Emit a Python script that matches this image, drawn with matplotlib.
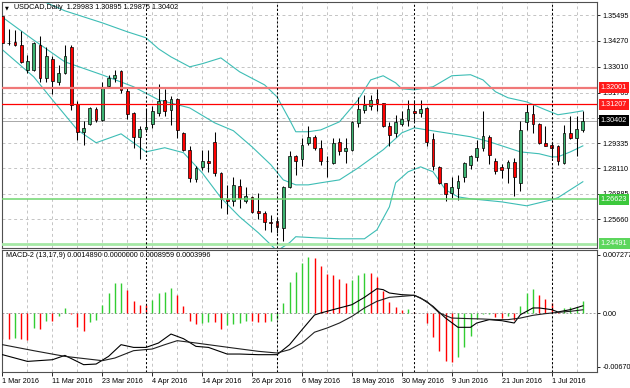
# USDCAD daily candles with Bollinger bands and a MACD-2 (13,17,9) panel,
# drawn to look like the MT4 terminal chart
import matplotlib as mp
mp.use('agg')
import matplotlib.pyplot as plt

plt.rcParams['font.family'] = ['Liberation Sans', 'DejaVu Sans']
FS = 5.2

# --- data (1 Mar 2016 .. 8 Jul 2016, one bar per trading day)
opens = [1.3544, 1.3418, 1.3420, 1.3407, 1.3287, 1.3287, 1.3407, 1.3247, 1.3338, 1.3230,
         1.3271, 1.3399, 1.3123, 1.2986, 1.3025, 1.3099, 1.3046, 1.3209, 1.3247, 1.3282,
         1.3185, 1.3078, 1.2962, 1.3001, 1.3026, 1.3078, 1.3142, 1.3094, 1.3148, 1.2984,
         1.2898, 1.2761, 1.2816, 1.2845, 1.2941, 1.2789, 1.2663, 1.2652, 1.2727, 1.2655,
         1.2673, 1.2608, 1.2596, 1.2555, 1.2560, 1.2524, 1.2721, 1.2869, 1.2856, 1.2936,
         1.2965, 1.2909, 1.2849, 1.2837, 1.2941, 1.2893, 1.2898, 1.3030, 1.3094, 1.3113,
         1.3145, 1.3126, 1.3017, 1.2982, 1.3025, 1.3046, 1.3090, 1.3078, 1.3102, 1.2953,
         1.2818, 1.2741, 1.2692, 1.2719, 1.2772, 1.2829, 1.2866, 1.2909, 1.2965, 1.2845,
         1.2816, 1.2813, 1.2840, 1.2743, 1.3033, 1.3073, 1.3026, 1.2936, 1.2925, 1.2917,
         1.2837, 1.2984, 1.2960, 1.29983]
highs = [1.3552, 1.3484, 1.3479, 1.3475, 1.3359, 1.3423, 1.3450, 1.3399, 1.3354, 1.3311,
         1.3407, 1.3407, 1.3134, 1.3042, 1.3107, 1.3107, 1.3230, 1.3262, 1.3287, 1.3287,
         1.3198, 1.3081, 1.3017, 1.3102, 1.3113, 1.3217, 1.3194, 1.3161, 1.3153, 1.2989,
         1.2917, 1.2825, 1.2898, 1.2898, 1.2989, 1.2794, 1.2732, 1.2772, 1.2761, 1.2721,
         1.2676, 1.2695, 1.2604, 1.2588, 1.2572, 1.2727, 1.2893, 1.2877, 1.2960, 1.3017,
         1.2973, 1.2946, 1.2869, 1.2957, 1.2960, 1.2957, 1.3042, 1.3158, 1.3163, 1.3166,
         1.3194, 1.3129, 1.3033, 1.3070, 1.3089, 1.3139, 1.3142, 1.3142, 1.3107, 1.2984,
         1.2821, 1.2743, 1.2772, 1.2781, 1.2840, 1.2874, 1.2949, 1.3090, 1.2973, 1.2861,
         1.2832, 1.2853, 1.2861, 1.3041, 1.3121, 1.3115, 1.3030, 1.3017, 1.2941, 1.2922,
         1.3022, 1.3062, 1.3062, 1.30895]
lows = [1.3388, 1.3407, 1.3402, 1.3319, 1.3272, 1.3282, 1.3230, 1.3230, 1.3171, 1.3214,
        1.3267, 1.3094, 1.2949, 1.2925, 1.3022, 1.3033, 1.3042, 1.3203, 1.3230, 1.3174,
        1.3050, 1.2912, 1.2856, 1.2989, 1.3006, 1.3065, 1.3062, 1.3022, 1.2957, 1.2893,
        1.2748, 1.2748, 1.2805, 1.2792, 1.2777, 1.2620, 1.2591, 1.2631, 1.2620, 1.2644,
        1.2596, 1.2567, 1.2515, 1.2507, 1.2502, 1.2459, 1.2716, 1.2781, 1.2824, 1.2925,
        1.2901, 1.2829, 1.2769, 1.2832, 1.2874, 1.2837, 1.2893, 1.3009, 1.3078, 1.3094,
        1.3086, 1.3013, 1.2917, 1.2965, 1.3017, 1.3017, 1.3042, 1.3059, 1.2917, 1.2805,
        1.2737, 1.2652, 1.2668, 1.2660, 1.2748, 1.2808, 1.2849, 1.2893, 1.2832, 1.2785,
        1.2765, 1.2740, 1.2679, 1.2700, 1.2997, 1.2984, 1.2930, 1.2917, 1.2861, 1.2829,
        1.2834, 1.2953, 1.2872, 1.29875]
closes = [1.3417, 1.3416, 1.3407, 1.3324, 1.3331, 1.3415, 1.3247, 1.3354, 1.3235, 1.3271,
          1.3354, 1.3118, 1.2986, 1.3006, 1.3102, 1.3046, 1.3206, 1.3247, 1.3262, 1.3190,
          1.3073, 1.2965, 1.3001, 1.3013, 1.3089, 1.3135, 1.3090, 1.3145, 1.2997, 1.2898,
          1.2765, 1.2813, 1.2848, 1.2837, 1.2789, 1.2663, 1.2652, 1.2732, 1.2668, 1.2676,
          1.2601, 1.2596, 1.2551, 1.2548, 1.2527, 1.2721, 1.2872, 1.2849, 1.2922, 1.2965,
          1.2909, 1.2849, 1.2848, 1.2933, 1.2893, 1.2909, 1.3033, 1.3097, 1.3118, 1.3142,
          1.3126, 1.3017, 1.2973, 1.3037, 1.3049, 1.3097, 1.3078, 1.3097, 1.2941, 1.2821,
          1.2741, 1.2687, 1.2724, 1.2753, 1.2837, 1.2872, 1.2912, 1.2968, 1.2877, 1.2801,
          1.2805, 1.2842, 1.2772, 1.2997, 1.3081, 1.3026, 1.2933, 1.2920, 1.2909, 1.2845,
          1.2984, 1.2957, 1.3001, 1.30402]

# Bollinger bands, read at a subset of bars
bb_up_idx = [0, 6, 10, 16, 20, 23, 25, 27, 30, 32, 35, 38, 42, 44, 46, 47, 49, 51, 54,
             57, 59, 61, 63, 64, 66, 69, 72, 75, 77, 79, 81, 84, 87, 89, 91, 93]
bb_up = [1.3720, 1.3624, 1.3571, 1.3513, 1.3470, 1.3441, 1.3388, 1.3349, 1.3301, 1.3316,
         1.3344, 1.3277, 1.3214, 1.3156, 1.3046, 1.2988, 1.2988, 1.2997, 1.3036, 1.3142,
         1.3238, 1.3258, 1.3224, 1.3195, 1.3190, 1.3205, 1.3258, 1.3263, 1.3238, 1.3181,
         1.3152, 1.3132, 1.3094, 1.3070, 1.3079, 1.3089]
bb_mid_idx = [0, 5, 10, 16, 21, 25, 30, 34, 37, 40, 43, 45, 47, 49, 51, 54, 57, 61, 64,
              66, 68, 71, 75, 78, 83, 86, 88, 89, 91, 93]
bb_mid = [1.3540, 1.3430, 1.3325, 1.3262, 1.3205, 1.3142, 1.3103, 1.3031, 1.2993, 1.2915,
          1.2829, 1.2756, 1.2732, 1.2732, 1.2742, 1.2756, 1.2814, 1.2901, 1.2983, 1.3007,
          1.2997, 1.2983, 1.2964, 1.2940, 1.2891, 1.2882, 1.2867, 1.2867, 1.2891, 1.2920]
bb_low_idx = [0, 5, 8, 12, 15, 19, 21, 23, 26, 29, 32, 35, 38, 41, 43, 44, 46, 47, 50,
              54, 58, 60, 62, 63, 65, 67, 69, 71, 73, 75, 80, 84, 88, 89, 93]
bb_low = [1.3383, 1.3253, 1.3142, 1.2997, 1.2935, 1.2978, 1.2935, 1.2891, 1.2911, 1.2887,
          1.2790, 1.2670, 1.2578, 1.2501, 1.2443, 1.2414, 1.2453, 1.2482, 1.2477, 1.2472,
          1.2472, 1.2515, 1.2626, 1.2742, 1.2795, 1.2819, 1.2795, 1.2708, 1.2674, 1.2665,
          1.2650, 1.2631, 1.2660, 1.2670, 1.2747]

# MACD-2 histogram (one per bar) and its colours, g = rising, r = falling
hist = [-0.00330, -0.00330, -0.00318, -0.00325, -0.00333, -0.00188, -0.00204, -0.00096, -0.00104, -0.00042,
        0.00063, -0.00008, -0.00171, -0.00219, -0.00115, -0.00083, 0.00100, 0.00250, 0.00370, 0.00375,
        0.00292, 0.00146, 0.00100, 0.00098, 0.00162, 0.00246, 0.00258, 0.00313, 0.00225, 0.00083,
        -0.00096, -0.00135, -0.00125, -0.00108, -0.00112, -0.00195, -0.00146, -0.00140, -0.00120, -0.00100,
        -0.00105, -0.00108, -0.00112, -0.00095, -0.00080, 0.00125, 0.00390, 0.00510, 0.00630, 0.00698,
        0.00684, 0.00592, 0.00488, 0.00480, 0.00425, 0.00375, 0.00417, 0.00480, 0.00500, 0.00495,
        0.00446, 0.00279, 0.00138, 0.00079, 0.00042, 0.00045, 0.00010, 0.00005, -0.00125, -0.00304,
        -0.00480, -0.00596, -0.00613, -0.00555, -0.00430, -0.00292, -0.00075, -0.00013, -0.00008, -0.00054,
        -0.00063, -0.00033, -0.00083, 0.00083, 0.00250, 0.00300, 0.00229, 0.00175, 0.00125, 0.00010,
        0.00060, 0.00070, 0.00075, 0.001489]
hist_dir = ('rrgrrgrgrg' 'grrrgggggg' 'rrrrggggrr' 'rrggrrgggg' 'rrrggggggg'
            'rrrrrrgggr' 'rrrrrgrrrr' 'rrrggggggr' 'rgrgggrrrr' 'gggg')

macd_idx = [0, 4, 8, 10, 13, 15, 17, 19, 21, 23, 25, 27, 29, 31, 33, 36, 38, 41, 44, 46,
            48, 50, 51, 53, 56, 58, 60, 61, 62, 64, 66, 67, 69, 71, 73, 75, 76, 78, 80, 82,
            83, 85, 86, 88, 89, 91, 93]
macd_line = [-0.00521, -0.00605, -0.00584, -0.00530, -0.00646, -0.00638, -0.00542, -0.00396, -0.00430, -0.00430,
             -0.00375, -0.00263, -0.00321, -0.00417, -0.00430, -0.00513, -0.00513, -0.00521, -0.00521, -0.00396,
             -0.00209, -0.00025, 0.00000, 0.00042, 0.00104, 0.00196, 0.00304, 0.00292, 0.00250, 0.00229,
             0.00221, 0.00188, 0.00083, -0.00063, -0.00179, -0.00179, -0.00125, -0.00083, -0.00096, -0.00125,
             -0.00021, 0.00063, 0.00063, 0.00042, 0.00013, 0.00042, 0.00090]
sig_idx = [0, 5, 10, 16, 18, 21, 24, 26, 28, 31, 33, 37, 41, 44, 46, 48, 50, 52, 54, 56,
           58, 60, 62, 64, 66, 68, 70, 72, 75, 77, 79, 81, 83, 85, 87, 89, 91, 93]
sig_line = [-0.00396, -0.00471, -0.00542, -0.00596, -0.00563, -0.00471, -0.00450, -0.00396, -0.00346, -0.00375,
            -0.00396, -0.00438, -0.00479, -0.00500, -0.00458, -0.00375, -0.00240, -0.00188, -0.00125, -0.00042,
            0.00063, 0.00146, 0.00196, 0.00208, 0.00221, 0.00146, 0.00000, -0.00063, -0.00071, -0.00075,
            -0.00083, -0.00083, -0.00063, -0.00029, -0.00008, 0.00008, 0.00021, 0.00040]

# axis labels / levels
date_pos = [0, 8, 16, 24, 32, 40, 48, 56, 64, 72, 80, 88]
date_labels = ['1 Mar 2016', '11 Mar 2016', '23 Mar 2016', '4 Apr 2016', '14 Apr 2016',
               '26 Apr 2016', '6 May 2016', '18 May 2016', '30 May 2016', '9 Jun 2016',
               '21 Jun 2016', '1 Jul 2016']
month_starts = [23, 44, 66, 88]
price_ticks = [1.35495, 1.34270, 1.33010, 1.31765, 1.30550, 1.29335, 1.28110, 1.26885, 1.25660]
macd_ticks = [0.007277, 0.0, -0.006705]
macd_tick_labels = ['0.007277', '0.00', '-0.006705']
levels = [1.32001, 1.31207, 1.26623, 1.24491]
level_colors = ['#f07878', '#ff0000', '#6fd66f', '#a6e8a6']
level_widths = [1.6, 0.9, 1.1, 2.0]
level_boxes = ['#ff1a1a', '#ff1a1a', '#3cc83c', '#5cd65c']
last_price = 1.30402

GRID = dict(color='#c4c4c4', lw=0.7, ls=(0, (3, 3)), zorder=0)
SEP = dict(color='black', lw=0.75, ls=(0, (2, 2)), zorder=4)


def main():
    W, H = 630.0, 388.0

    def frame(x0, y0, x1, y1):
        return [x0 / W, 1 - y1 / H, (x1 - x0) / W, (y1 - y0) / H]

    fig = plt.figure(figsize=(6.3, 3.88), dpi=100)
    ax = fig.add_axes(frame(2, 2, 597, 248))
    ax2 = fig.add_axes(frame(2, 250, 597, 372))

    n = len(closes)
    idx = list(range(n))

    # ---- price panel
    ax.set_xlim(-0.08, 95.27)
    ax.set_ylim(1.24276, 1.36136)
    for p in price_ticks + [1.24450]:
        ax.axhline(p, **GRID)
    for i in range(4, 96, 4):
        ax.axvline(i, **GRID)
        ax2.axvline(i, **GRID)

    ax.axhline(last_price, color='#a8a8a8', lw=0.7, zorder=0.5)

    ax.plot(bb_up_idx, bb_up, color='#3dbdb5', lw=0.8, zorder=1)
    ax.plot(bb_mid_idx, bb_mid, color='#3dbdb5', lw=0.8, zorder=1)
    ax.plot(bb_low_idx, bb_low, color='#3dbdb5', lw=0.8, zorder=1)

    ax.vlines(idx, lows, highs, color='black', lw=0.75, zorder=2)
    bottoms = [min(o, c) for o, c in zip(opens, closes)]
    heights = [abs(c - o) for o, c in zip(opens, closes)]
    cols = ['#3cb371' if c >= o else '#ff0000' for o, c in zip(opens, closes)]
    ax.bar(idx, heights, 0.44, bottoms, color=cols, edgecolor='black', lw=0.5, zorder=3)

    for lv, c, w in zip(levels, level_colors, level_widths):
        ax.axhline(lv, color=c, lw=w, zorder=3.5)

    for i in month_starts:
        ax.axvline(i, **SEP)
        ax2.axvline(i, **SEP)

    ax.set_xticks([])
    ax.yaxis.tick_right()
    ax.set_yticks(price_ticks)
    ax.set_yticklabels(['%.5f' % p for p in price_ticks])
    ax.tick_params(axis='y', length=2, width=0.6, pad=2, labelsize=FS, colors='black')

    ytr = ax.get_yaxis_transform()
    for lv, c in zip(levels, level_boxes):
        ax.text(1.0065, lv, '%.5f' % lv, transform=ytr, ha='left', va='center',
                fontsize=FS, color='white', clip_on=False, zorder=10,
                bbox=dict(boxstyle='square,pad=0.28', fc=c, ec='none'))
    ax.text(1.0065, last_price, '%.5f' % last_price, transform=ytr, ha='left', va='center',
            fontsize=FS, color='white', clip_on=False, zorder=10,
            bbox=dict(boxstyle='square,pad=0.28', fc='black', ec='none'))

    fig.text(4.5 / W, 1 - 7.5 / H, '\u25bc', fontsize=3.6, va='center', family='DejaVu Sans')
    fig.text(14 / W, 1 - 7.5 / H, 'USDCAD,Daily  1.29983 1.30895 1.29875 1.30402',
             fontsize=FS, va='center')

    # ---- MACD panel
    ax2.set_xlim(-0.08, 95.27)
    ax2.set_ylim(-0.007375, 0.007875)
    ax2.axhline(0, color='#a0a0a0', lw=0.7, ls=(0, (2, 2)), zorder=0.5)
    hcols = ['#32cd32' if d == 'g' else '#ff0000' for d in hist_dir]
    ax2.vlines(idx, 0, hist, colors=hcols, lw=1.0, zorder=2)
    ax2.plot(macd_idx, macd_line, color='black', lw=0.8, zorder=3)
    ax2.plot(sig_idx, sig_line, color='#202020', lw=0.8, zorder=3)

    ax2.yaxis.tick_right()
    ax2.set_yticks(macd_ticks)
    ax2.set_yticklabels(macd_tick_labels)
    ax2.tick_params(axis='y', length=2, width=0.6, pad=2, labelsize=FS)
    ax2.set_xticks(date_pos)
    ax2.set_xticklabels(date_labels)
    for t in ax2.get_xticklabels():
        t.set_horizontalalignment('left')
    ax2.tick_params(axis='x', length=3, width=0.6, pad=1.5, labelsize=FS)

    fig.text(6 / W, 1 - 255.5 / H,
             'MACD-2 (13,17,9) 0.0014890 0.0000000 0.0008959 0.0003996',
             fontsize=FS, va='center')

    for a in (ax, ax2):
        for s in a.spines.values():
            s.set_color('#505050')
            s.set_linewidth(0.8)

    fig.savefig('out.png', dpi=100)


if __name__ == '__main__':
    main()
